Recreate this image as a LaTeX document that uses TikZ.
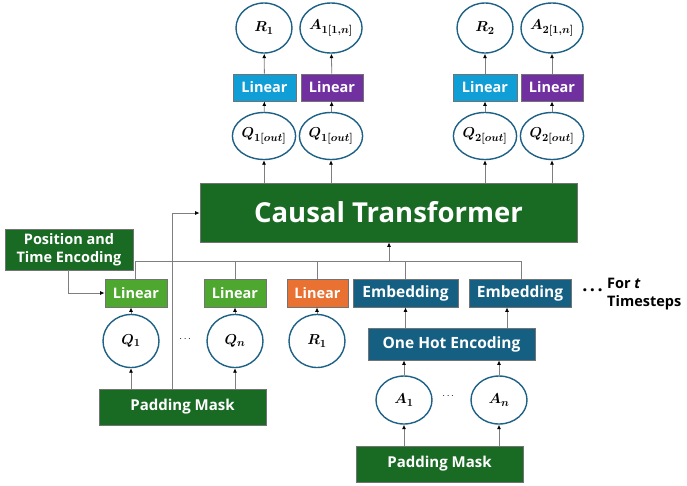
\documentclass[tikz,border=0pt]{standalone}
\usepackage{fontspec}
\setmainfont{Open Sans}
\usepackage{amsmath,bm}
\usetikzlibrary{shapes.geometric,arrows.meta,calc}
\definecolor{dgreen}{HTML}{196B24}
\definecolor{lgreen}{HTML}{4EA72E}
\definecolor{orng}{HTML}{E97132}
\definecolor{dblue}{HTML}{156082}
\definecolor{cyanb}{HTML}{0F9ED5}
\definecolor{purp}{HTML}{7030A0}
\definecolor{ringc}{HTML}{1E6186}
\definecolor{linec}{HTML}{7F7F7F}
\begin{document}
\begin{tikzpicture}[x=1pt,y=-1pt,
  box/.style={draw=black!55,line width=0.8pt,text=white,font=\bfseries,inner sep=0pt,align=center},
  ring/.style={ellipse,draw=ringc,line width=1.4pt,fill=white,inner sep=0pt,minimum width=56pt,minimum height=50pt,font=\fontsize{15}{15}\selectfont},
  arr/.style={draw=linec,line width=0.8pt,-{Latex[length=4.5pt,width=4pt,black]}},
  ln/.style={draw=linec,line width=0.8pt},
  lin/.style={box,minimum height=27pt,font=\fontsize{14.5}{16}\bfseries}]
\useasboundingbox (0,0) rectangle (687,485);

% top circles
\node[ring] (R1t) at (264,28) {$\bm{R_1}$};
\node[ring] (A1t) at (331,28) {$\bm{A_{1[1,n]}}$};
\node[ring] (R2t) at (485,28) {$\bm{R_2}$};
\node[ring] (A2t) at (552,28) {$\bm{A_{2[1,n]}}$};
% top linears
\node[lin,fill=cyanb,minimum width=63pt] (LC1) at (264.5,87.5) {Linear};
\node[lin,fill=purp,minimum width=62pt] (LP1) at (332,87.5) {Linear};
\node[lin,fill=cyanb,minimum width=64pt] (LC2) at (485,87.5) {Linear};
\node[lin,fill=purp,minimum width=62pt] (LP2) at (552,87.5) {Linear};
% Q out circles
\node[ring,minimum height=47pt] (Q1o) at (264,136) {$\bm{Q_{1[out]}}$};
\node[ring,minimum height=47pt] (Q1o2) at (331,136) {$\bm{Q_{1[out]}}$};
\node[ring,minimum height=47pt] (Q2o) at (485,136) {$\bm{Q_{2[out]}}$};
\node[ring,minimum height=47pt] (Q2o2) at (552,136) {$\bm{Q_{2[out]}}$};
% transformer
\node[box,fill=dgreen,minimum width=377pt,minimum height=59pt,font=\fontsize{27.5}{30}\bfseries] (CT) at (388.5,212.5) {Causal Transformer};
% position and time encoding
\node[box,fill=dgreen,minimum width=128pt,minimum height=41pt,font=\fontsize{14.5}{18.5}\bfseries] (PTE) at (69,249.5) {Position and\\Time Encoding};
% linear row
\node[lin,fill=lgreen,minimum width=62pt,minimum height=28pt] (L1) at (136,293) {Linear};
\node[lin,fill=lgreen,minimum width=62pt,minimum height=28pt] (L2) at (235,293) {Linear};
\node[lin,fill=orng,minimum width=61pt,minimum height=28pt] (LO) at (317.5,293) {Linear};
\node[lin,fill=dblue,minimum width=105pt,minimum height=28pt,font=\fontsize{15.5}{16}\bfseries] (E1) at (405.5,293) {Embedding};
\node[lin,fill=dblue,minimum width=102pt,minimum height=28pt,font=\fontsize{15.5}{16}\bfseries] (E2) at (520,293) {Embedding};
% for t timesteps
\node[font=\fontsize{18}{18}\bfseries,inner sep=0pt] (dots3) at (592.5,290) {.\kern2.5pt.\kern2.5pt.};
\node[font=\fontsize{14.5}{18}\bfseries,anchor=north west,align=left,inner sep=0pt] (FT) at (607,278) {For \textit{t}\\Timesteps};
% input circles
\node[ring,minimum height=53pt] (Q1) at (131,341) {$\bm{Q_1}$};
\node[ring,minimum height=53pt] (Qn) at (235,341) {$\bm{Q_n}$};
\node[ring,minimum height=53pt] (R1b) at (317,341) {$\bm{R_1}$};
\node (dq) at (186,339) {$\cdots$};
% padding mask 1
\node[box,fill=dgreen,minimum width=167pt,minimum height=36pt,font=\fontsize{15}{16}\bfseries] (PM1) at (182.5,407) {Padding Mask};
% one hot
\node[box,fill=dblue,minimum width=167pt,minimum height=32pt,font=\fontsize{15.5}{16}\bfseries] (OHE) at (451.5,344) {One Hot Encoding};
\node[ring,minimum height=48pt] (A1) at (404,400) {$\bm{A_1}$};
\node[ring,minimum height=48pt] (An) at (499,400) {$\bm{A_n}$};
\node (da) at (449,396) {$\cdots$};
\node[box,fill=dgreen,minimum width=167pt,minimum height=36pt,font=\fontsize{15}{16}\bfseries] (PM2) at (439.5,464) {Padding Mask};

% coordinates
\coordinate (busL) at (135,261);
\coordinate (busR) at (521,261);
\coordinate (busU) at (389,261);
\coordinate (pmU) at (172,213);
\coordinate (pteD) at (68,293);
\coordinate (ohe2) at (507,328);

% top arrows
\draw[arr] (CT.north -| Q1o) -- (Q1o);
\draw[arr] (CT.north -| Q1o2) -- (Q1o2);
\draw[arr] (CT.north -| Q2o) -- (Q2o);
\draw[arr] (CT.north -| Q2o2) -- (Q2o2);
\draw[arr] (Q1o) -- (LC1);
\draw[arr] (Q1o2) -- (LP1);
\draw[arr] (Q2o) -- (LC2);
\draw[arr] (Q2o2) -- (LP2);
\draw[arr] (LC1) -- (R1t);
\draw[arr] (LP1) -- (A1t);
\draw[arr] (LC2) -- (R2t);
\draw[arr] (LP2) -- (A2t);

% bus
\draw[ln] (L1.north -| busL) -- (busL) -- (busR) -- (E2.north -| busR);
\draw[ln] (L2.north) -- (L2.north |- busL);
\draw[ln] (LO.north) -- (LO.north |- busL);
\draw[ln] (E1.north) -- (E1.north |- busL);
\draw[arr] (busU) -- (CT.south -| busU);

% PTE to linear
\draw[arr] (PTE.south -| pteD) -- (pteD) -- (L1.west);
% padding mask to transformer
\draw[arr] (PM1.north -| pmU) -- (pmU) -- (CT.west |- pmU);

% inputs
\draw[arr] (PM1.north -| Q1) -- (Q1);
\draw[arr] (PM1.north -| Qn) -- (Qn);
\draw[arr] (Q1) -- (L1.south -| Q1);
\draw[arr] (Qn) -- (L2);
\draw[arr] (R1b) -- (LO.south -| R1b);

\draw[arr] (PM2.north -| A1) -- (A1);
\draw[arr] (PM2.north -| An) -- (An);
\draw[arr] (A1) -- (OHE.south -| A1);
\draw[arr] (An) -- (OHE.south -| An);
\draw[arr] (OHE.north -| E1) -- (E1);
\draw[arr] (ohe2) -- (E2.south -| ohe2);
\end{tikzpicture}
\end{document}
